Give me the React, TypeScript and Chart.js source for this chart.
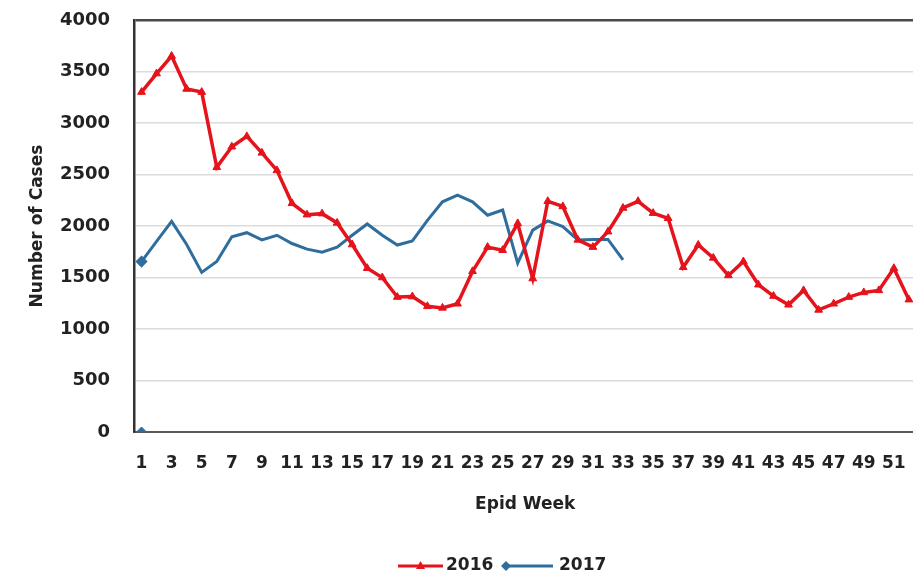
import React, { useEffect, useRef } from "react";
import { Chart, registerables } from "chart.js";

Chart.register(...registerables);

const weeks: string[] = Array.from({ length: 52 }, (_, i) => String(i + 1));

const cases2016: number[] = [
  3300, 3480, 3650, 3330, 3300, 2570, 2770, 2870, 2710, 2540,
  2220, 2110, 2120, 2030, 1820, 1590, 1500, 1310, 1315, 1220,
  1205, 1245, 1560, 1795, 1765, 2025, 1490, 2240, 2190, 1865,
  1795, 1945, 2175, 2240, 2125, 2075, 1600, 1816, 1690, 1520,
  1655, 1430, 1320, 1235, 1375, 1185, 1245, 1310, 1355, 1375,
  1590, 1285,
];

const cases2017: number[] = [
  1655, 1850, 2045, 1820, 1550, 1655, 1895, 1935, 1865, 1910,
  1830, 1775, 1745, 1795, 1910, 2020, 1910, 1815, 1855, 2055,
  2235, 2300, 2235, 2105, 2155, 1640, 1960, 2050, 1995, 1865,
  1870, 1870, 1670,
];

const stray2017: number[] = [0];

const seriesLabels = ["2016", "2017"];
const yTicks = { min: 0, max: 4000, step: 500 };

const RED = "#e5131b";
const BLUE = "#2f6e9c";
const FONT = "'DejaVu Sans', sans-serif";

const legendPlugin = {
  id: "customLegend",
  afterDraw(chart: any) {
    const ctx = chart.ctx;
    ctx.save();
    ctx.font = `bold 17px ${FONT}`;
    ctx.textBaseline = "middle";
    ctx.fillStyle = "#222";
    const y = 566;
    // 2016 item
    let x = 398;
    ctx.strokeStyle = RED;
    ctx.lineWidth = 3;
    ctx.beginPath();
    ctx.moveTo(x, y);
    ctx.lineTo(x + 45, y);
    ctx.stroke();
    ctx.fillStyle = RED;
    ctx.beginPath();
    ctx.moveTo(x + 22.5, y - 5);
    ctx.lineTo(x + 27, y + 3);
    ctx.lineTo(x + 18, y + 3);
    ctx.closePath();
    ctx.fill();
    ctx.fillStyle = "#222";
    ctx.textAlign = "left";
    ctx.fillText(seriesLabels[0], x + 48, y);
    // 2017 item
    x = 506;
    ctx.strokeStyle = BLUE;
    ctx.beginPath();
    ctx.moveTo(x, y);
    ctx.lineTo(x + 47, y);
    ctx.stroke();
    ctx.fillStyle = BLUE;
    ctx.beginPath();
    ctx.moveTo(x, y - 5);
    ctx.lineTo(x + 5, y);
    ctx.lineTo(x, y + 5);
    ctx.lineTo(x - 5, y);
    ctx.closePath();
    ctx.fill();
    ctx.fillStyle = "#222";
    ctx.fillText(seriesLabels[1], x + 53, y);
    ctx.restore();
  },
};

export default function App() {
  const canvasRef = useRef<HTMLCanvasElement | null>(null);

  useEffect(() => {
    if (!canvasRef.current) return;
    const chart = new Chart(canvasRef.current, {
      type: "line",
      data: {
        labels: weeks,
        datasets: [
          {
            label: seriesLabels[0],
            data: cases2016,
            borderColor: RED,
            backgroundColor: RED,
            borderWidth: 3.5,
            pointStyle: "triangle",
            pointRadius: 4.5,
            pointBorderWidth: 1,
            tension: 0,
          },
          {
            label: seriesLabels[1],
            data: cases2017,
            borderColor: BLUE,
            backgroundColor: BLUE,
            borderWidth: 3,
            pointStyle: "rectRot",
            pointRadius: (c: any) => (c.dataIndex === 0 ? 4 : 0),
            tension: 0,
          },
          {
            label: "",
            data: stray2017,
            borderColor: BLUE,
            backgroundColor: BLUE,
            showLine: false,
            pointStyle: "rectRot",
            pointRadius: 5,
          },
        ],
      },
      options: {
        responsive: false,
        animation: false,
        devicePixelRatio: 1,
        layout: { padding: { left: 0, top: 20, right: 9, bottom: 57 } },
        plugins: {
          legend: { display: false },
          tooltip: { enabled: false },
        },
        scales: {
          x: {
            type: "category",
            offset: true,
            grid: { display: false, drawTicks: false },
            border: { display: true, color: "#5a5a5a", width: 2 },
            ticks: {
              autoSkip: false,
              maxRotation: 0,
              padding: 21,
              color: "#222",
              font: { family: FONT, size: 17, weight: "bold" },
              callback: (_v: any, i: number) => (i % 2 === 0 ? weeks[i] : ""),
            },
            title: {
              display: true,
              text: "Epid Week",
              color: "#222",
              font: { family: FONT, size: 17, weight: "bold" },
              padding: { top: 0, bottom: 7 },
            },
            afterFit: (s: any) => {
              s.height = 90;
            },
          },
          y: {
            min: yTicks.min,
            max: yTicks.max,
            grid: {
              drawTicks: false,
              color: (c: any) => (c.tick && c.tick.value === yTicks.max ? "#4a4a4a" : "#dcdcdc"),
              lineWidth: (c: any) => (c.tick && c.tick.value === yTicks.max ? 2.5 : 1.5),
            },
            border: { display: true, color: "#333", width: 2.5 },
            ticks: {
              stepSize: yTicks.step,
              padding: 24,
              color: "#222",
              font: { family: FONT, size: 18, weight: "bold" },
              callback: (v: any) => String(v),
            },
            title: {
              display: true,
              text: "Number of Cases",
              color: "#222",
              font: { family: FONT, size: 17, weight: "bold" },
              padding: { top: 27, bottom: 0 },
            },
            afterFit: (s: any) => {
              s.width = 134;
              s.paddingTop = 0;
              s.paddingBottom = 0;
            },
          },
        },
      },
      plugins: [legendPlugin],
    });
    return () => chart.destroy();
  }, []);

  return (
    <div
      style={{
        position: "fixed",
        left: 0,
        top: 0,
        width: 913,
        height: 579,
        overflow: "hidden",
        background: "#fff",
      }}
    >
      <canvas ref={canvasRef} width={930} height={579} />
    </div>
  );
}
